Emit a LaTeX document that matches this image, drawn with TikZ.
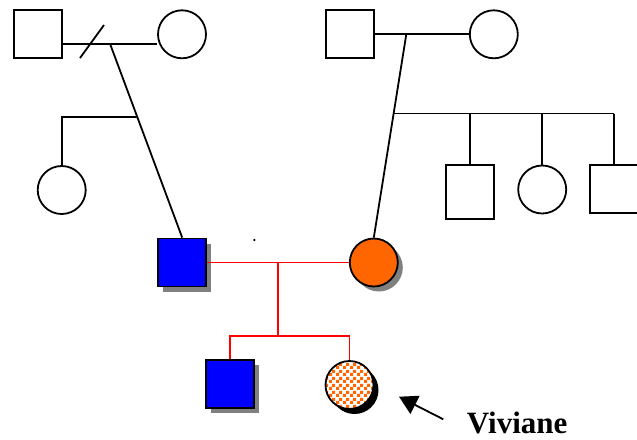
\documentclass[tikz,border=0pt]{standalone}
\usepackage{fontspec}
\setmainfont{Liberation Serif}
\usepackage{tikz}
\usetikzlibrary{calc,shadows,patterns,arrows.meta}

\definecolor{pedorange}{RGB}{255,102,0}
\definecolor{pedblue}{RGB}{0,0,255}
\definecolor{pedgray}{RGB}{128,128,128}

% small orange/white checks for the carrier
\pgfdeclarepatternformonly{pedcheck}{\pgfpointorigin}{\pgfqpoint{7pt}{7pt}}{\pgfqpoint{7pt}{7pt}}%
{\pgfpathrectangle{\pgfpointorigin}{\pgfqpoint{3.5pt}{3.5pt}}%
 \pgfpathrectangle{\pgfqpoint{3.5pt}{3.5pt}}{\pgfqpoint{3.5pt}{3.5pt}}%
 \pgfusepath{fill}}

\begin{document}
\begin{tikzpicture}[x=1pt,y=-1pt,line width=1.8pt,
  male/.style={draw,rectangle,inner sep=0pt,minimum size=48pt},
  female/.style={draw,circle,inner sep=0pt,minimum size=48pt},
  shade/.style={drop shadow={shadow xshift=5pt,shadow yshift=-5pt,fill=#1,opacity=1}},
  redline/.style={draw=red,line width=1.6pt}]

\useasboundingbox (0,0) rectangle (637,439);

% Grandparents, left side
\node[male]   (gfa) at (37.7,34.3) {};
\node[female] (gma) at (182,34.3) {};
\coordinate (ma) at (110,43.7);
\draw (gfa.east |- ma) -- (gma.west |- ma);
\draw (80,58) -- (104,25);   % divorced

% Grandparents, right side
\node[male]   (gfb) at (350,34.3) {};
\node[female] (gmb) at (493.8,34.3) {};
\coordinate (mb) at (406.3,34.3);
\draw (gfb) -- (gmb);

% Parents
\node[male,fill=pedblue,shade=pedgray]     (dad) at (182.2,262.5) {};
\node[female,fill=pedorange,shade=pedgray] (mom) at (373.8,262.5) {};
\fill (254.3,240) circle (1.2pt);

% Half sister of the father
\node[female] (aunt) at (61.7,190) {};
\draw (ma) -- (dad.north) coordinate[pos=0.38] (sa);
\draw (sa) -- (sa -| aunt) -- (aunt.north);

% Siblings of the mother
\node[male,minimum height=54pt] (uncA) at (470,192.3) {};
\node[female]                   (aunB) at (542.2,189.5) {};
\node[male]                     (uncC) at (614,189.3) {};
\draw (mb) -- (mom.north) coordinate[pos=0.39] (sb);
\draw (sb) -- (uncC |- sb);
\foreach \k in {uncA,aunB,uncC}
  \draw (\k |- sb) -- (\k.north);

% Children
\node[male,fill=pedblue,shade=pedgray] (son) at (230,384.3) {};
\node[female,shade=black,preaction={fill=white},pattern=pedcheck,pattern color=pedorange] (viv) at (349.5,385) {};
\coordinate (mp) at ($(dad)!0.5!(mom)$);
\coordinate (cs) at ($(mp)+(0,73.2)$);
\path[redline] (dad.east) -- (mom.west);
\path[redline] (mp) -- (cs);
\path[redline] (son.north) -- (son.north |- cs) -- (viv.north |- cs) -- (viv.north);

% Pointer to the proband
\node[anchor=base west,inner sep=0pt,font=\fontsize{31}{31}\selectfont\bfseries] (name) at (466,433.5) {Viviane};
\coordinate (tail) at (443.3,419.3);
\draw[-{Triangle[length=18pt,width=20pt]}] (tail) -- (399,396.7);

\end{tikzpicture}
\end{document}
